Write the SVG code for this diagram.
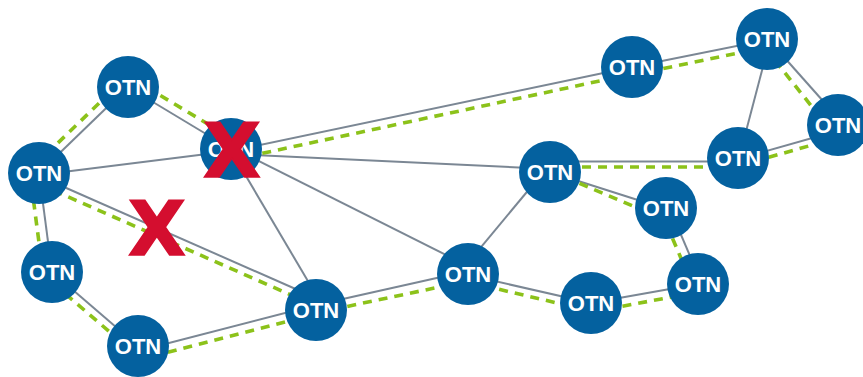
<svg xmlns="http://www.w3.org/2000/svg" width="863" height="377" viewBox="0 0 863 377">
<style>
.e{stroke:#7b8794;stroke-width:2;fill:none}
.d{stroke:#8cc21a;stroke-width:3.6;stroke-dasharray:9 7;fill:none}
.n circle{fill:#04619f}
.n text{fill:#fff;font-family:"Liberation Sans",Arial,sans-serif;font-weight:bold;font-size:22px;text-anchor:middle}
.x{fill:#d40e2f;stroke:#d40e2f;stroke-width:1.5;stroke-linejoin:miter;font-family:"DejaVu Sans",sans-serif;font-weight:bold;font-size:75px;text-anchor:middle}
</style>
<rect width="863" height="377" fill="#fff"/>
<g id="connectors">
<g id="links">
<line class="e" x1="128" y1="87" x2="39" y2="173"/>
<line class="e" x1="128" y1="87" x2="231" y2="149"/>
<line class="e" x1="39" y1="175" x2="231" y2="151"/>
<line class="e" x1="39" y1="176" x2="316" y2="298"/>
<line class="e" x1="39" y1="173" x2="52" y2="272"/>
<line class="e" x1="52" y1="272" x2="138" y2="346"/>
<line class="e" x1="138" y1="351" x2="316" y2="305"/>
<line class="e" x1="316" y1="305" x2="468" y2="271"/>
<line class="e" x1="230" y1="149" x2="325" y2="310"/>
<line class="e" x1="231" y1="147" x2="468" y2="266"/>
<line class="e" x1="231" y1="154" x2="550" y2="169"/>
<line class="e" x1="231" y1="151" x2="632" y2="67"/>
<line class="e" x1="632" y1="67" x2="767" y2="40"/>
<line class="e" x1="770" y1="40" x2="739" y2="158"/>
<line class="e" x1="767" y1="38" x2="839" y2="119"/>
<line class="e" x1="738" y1="159" x2="837" y2="131"/>
<line class="e" x1="550" y1="161.5" x2="738" y2="161.5"/>
<line class="e" x1="550" y1="172" x2="666" y2="209"/>
<line class="e" x1="670" y1="209" x2="702" y2="284"/>
<line class="e" x1="698" y1="284" x2="591" y2="303"/>
<line class="e" x1="468" y1="275" x2="591" y2="303"/>
<line class="e" x1="472" y1="258" x2="536" y2="181"/>
</g>
<g id="path">
<line class="d" x1="122" y1="81" x2="33" y2="167"/>
<line class="d" x1="133" y1="79" x2="236" y2="141"/>
<line class="d" x1="231" y1="160" x2="632" y2="74"/>
<line class="d" x1="632" y1="75" x2="767" y2="47"/>
<line class="d" x1="765" y1="48" x2="833" y2="133"/>
<line class="d" x1="738" y1="166" x2="837" y2="138"/>
<line class="d" x1="550" y1="167" x2="738" y2="167"/>
<line class="d" x1="550" y1="171" x2="666" y2="220"/>
<line class="d" x1="660" y1="209" x2="692" y2="284"/>
<line class="d" x1="591" y1="312" x2="699" y2="292"/>
<line class="d" x1="468" y1="282" x2="591" y2="311"/>
<line class="d" x1="316" y1="313" x2="468" y2="281"/>
<line class="d" x1="316" y1="314" x2="138" y2="360"/>
<line class="d" x1="133" y1="352" x2="47" y2="278"/>
<line class="d" x1="43" y1="273" x2="30" y2="174"/>
<line class="d" x1="39" y1="184" x2="316" y2="306"/>
</g>
</g>
<g id="node-a" class="n"><circle cx="128" cy="87" r="31"/><text x="128" y="95">OTN</text></g>
<g id="node-b" class="n"><circle cx="39" cy="173" r="31"/><text x="39" y="181">OTN</text></g>
<g id="node-c" class="n"><circle cx="231" cy="149" r="31"/><text x="231" y="157">OTN</text></g>
<g id="node-d" class="n"><circle cx="52" cy="272" r="31"/><text x="52" y="280">OTN</text></g>
<g id="node-e" class="n"><circle cx="138" cy="346" r="31"/><text x="138" y="354">OTN</text></g>
<g id="node-f" class="n"><circle cx="316" cy="310" r="31"/><text x="316" y="318">OTN</text></g>
<g id="node-g" class="n"><circle cx="468" cy="274" r="31"/><text x="468" y="282">OTN</text></g>
<g id="node-h" class="n"><circle cx="550" cy="172" r="31"/><text x="550" y="180">OTN</text></g>
<g id="node-i" class="n"><circle cx="591" cy="303" r="31"/><text x="591" y="311">OTN</text></g>
<g id="node-j" class="n"><circle cx="666" cy="208" r="31"/><text x="666" y="216">OTN</text></g>
<g id="node-k" class="n"><circle cx="698" cy="284" r="31"/><text x="698" y="292">OTN</text></g>
<g id="node-l" class="n"><circle cx="738" cy="158" r="31"/><text x="738" y="166">OTN</text></g>
<g id="node-m" class="n"><circle cx="632" cy="67" r="31"/><text x="632" y="75">OTN</text></g>
<g id="node-n" class="n"><circle cx="767" cy="39" r="31"/><text x="767" y="47">OTN</text></g>
<g id="node-o" class="n"><circle cx="838" cy="125" r="31"/><text x="838" y="133">OTN</text></g>
<g id="failures">
<text class="x" x="232" y="177">X</text>
<text class="x" x="157" y="255">X</text>
</g>
</svg>
